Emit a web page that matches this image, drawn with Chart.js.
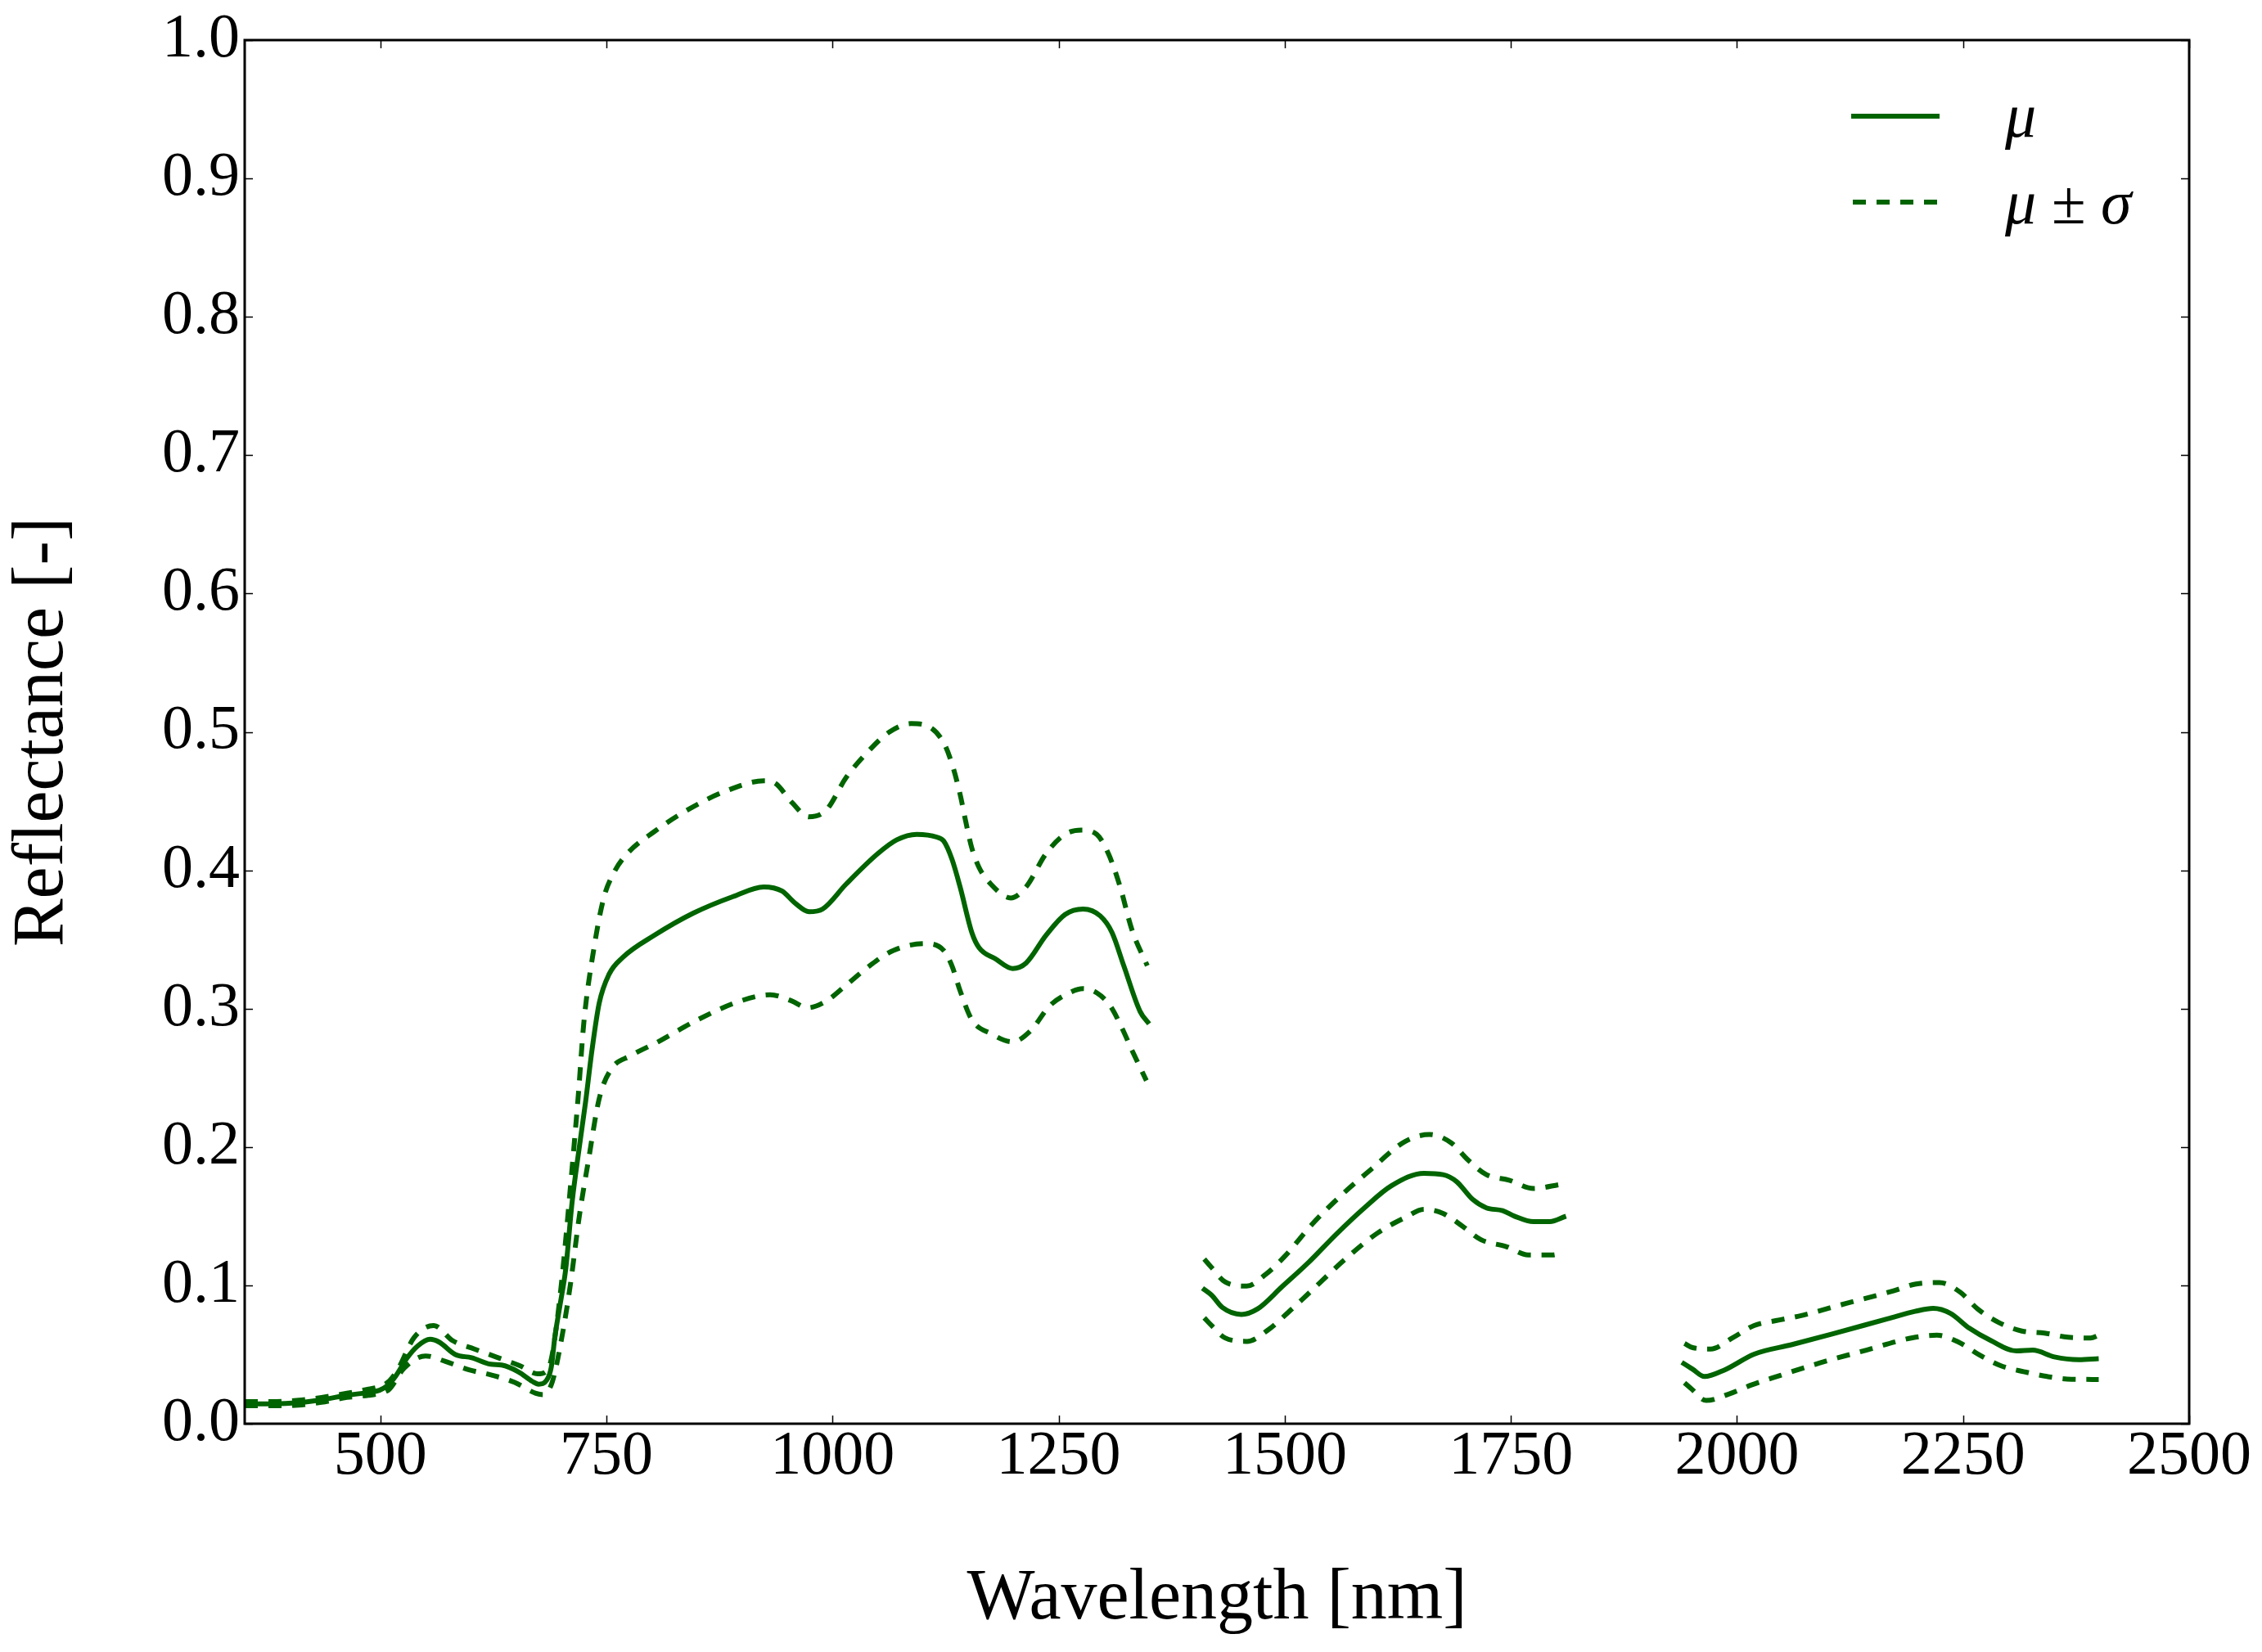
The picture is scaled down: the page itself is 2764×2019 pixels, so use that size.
<!DOCTYPE html>
<html>
<head>
<meta charset="utf-8">
<script src="https://cdn.jsdelivr.net/npm/chart.js@4.4.1/dist/chart.umd.min.js"></script>
<style>
  html, body { margin: 0; padding: 0; background: #fff; }
  canvas { display: block; }
</style>
</head>
<body>
<canvas id="spectrum" width="2764" height="2019"></canvas>
<script>
// tick labels
const wavelengthTicks = [500, 750, 1000, 1250, 1500, 1750, 2000, 2250, 2500];
const reflectanceTicks = [0, 0.1, 0.2, 0.3, 0.4, 0.5, 0.6, 0.7, 0.8, 0.9, 1.0];

// mean spectrum (null = water absorption gap)
const meanWavelength = [
  350, 380, 410, 435, 463, 487, 499, 508, 517, 529, 541, 555, 565, 583, 601, 622, 634, 653, 668, 675,
  684, 689, 693, 699, 705, 712, 720, 727, 734, 742, 753, 768, 803, 846, 890, 924, 944, 959, 974, 989,
  1015, 1050, 1071, 1093, 1115, 1123, 1132, 1141, 1154, 1162, 1180, 1199, 1214, 1236, 1257, 1277, 1296, 1309, 1322, 1340, 1350,
  1380,
  1409, 1419, 1431, 1452, 1470, 1497, 1527, 1557, 1588, 1618, 1654, 1675, 1690, 1708, 1723, 1741, 1754, 1775, 1793, 1811,
  1875,
  1939, 1951, 1964, 1986, 2019, 2061, 2106, 2167, 2197, 2217, 2236, 2257, 2281, 2309, 2327, 2351, 2378, 2400
];
const meanReflectance = [
  0.0144, 0.0144, 0.0152, 0.0173, 0.0205, 0.0227, 0.0242, 0.0276, 0.0345, 0.047, 0.056, 0.061, 0.059, 0.050, 0.0477, 0.043, 0.0424, 0.0374, 0.0306, 0.0286,
  0.0316, 0.041, 0.063, 0.087, 0.112, 0.160, 0.200, 0.233, 0.270, 0.304, 0.325, 0.337, 0.353, 0.369, 0.381, 0.388, 0.385, 0.376, 0.370, 0.372,
  0.390, 0.412, 0.422, 0.426, 0.424, 0.421, 0.408, 0.388, 0.355, 0.344, 0.336, 0.329, 0.333, 0.353, 0.368, 0.372, 0.367, 0.355, 0.331, 0.298, 0.289,
  null,
  0.098, 0.093, 0.084, 0.079, 0.083, 0.099, 0.117, 0.137, 0.156, 0.172, 0.181, 0.180, 0.175, 0.162, 0.156, 0.154, 0.150, 0.146, 0.146, 0.150,
  null,
  0.0444, 0.0394, 0.0341, 0.0388, 0.0503, 0.0572, 0.065, 0.0759, 0.0812, 0.0834, 0.0798, 0.069, 0.060, 0.0526, 0.0532, 0.0483, 0.0463, 0.047
];

// mean + sigma
const upperWavelength = [
  350, 380, 410, 435, 463, 487, 500, 510, 520, 537, 559, 580, 604, 629, 654, 674, 684, 690, 700, 710,
  719, 725, 736, 747, 758, 773, 803, 842, 881, 924, 937, 955, 974, 993, 1015, 1041, 1063, 1087, 1106, 1123,
  1132, 1141, 1147, 1154, 1162, 1175, 1197, 1214, 1236, 1257, 1275, 1292, 1305, 1318, 1331, 1348,
  1380,
  1411, 1419, 1434, 1458, 1479, 1500, 1530, 1564, 1594, 1633, 1660, 1684, 1702, 1723, 1748, 1775, 1805,
  1875,
  1942, 1951, 1971, 1995, 2019, 2043, 2070, 2121, 2173, 2198, 2224, 2247, 2266, 2290, 2315, 2340, 2366, 2391, 2400
];
const upperReflectance = [
  0.016, 0.016, 0.017, 0.019, 0.022, 0.025, 0.027, 0.031, 0.040, 0.062, 0.071, 0.060, 0.054, 0.048, 0.042, 0.036, 0.038, 0.050, 0.100, 0.170,
  0.2385, 0.290, 0.343, 0.380, 0.398, 0.412, 0.428, 0.4445, 0.457, 0.4646, 0.4627, 0.449, 0.4386, 0.4435, 0.467, 0.487, 0.500, 0.506, 0.504, 0.492,
  0.477, 0.455, 0.436, 0.416, 0.402, 0.390, 0.380, 0.388, 0.412, 0.426, 0.429, 0.426, 0.412, 0.388, 0.357, 0.331,
  null,
  0.119, 0.113, 0.1025, 0.0995, 0.108, 0.121, 0.144, 0.166, 0.183, 0.204, 0.209, 0.203, 0.191, 0.180, 0.176, 0.170, 0.173,
  null,
  0.058, 0.055, 0.054, 0.062, 0.071, 0.0745, 0.078, 0.087, 0.096, 0.101, 0.102, 0.095, 0.083, 0.073, 0.067, 0.0655, 0.0625, 0.062, 0.064
];

// mean - sigma
const lowerWavelength = [
  350, 380, 410, 435, 463, 487, 500, 510, 526, 550, 572, 598, 624, 648, 672, 680, 690, 700, 710, 720,
  730, 742, 755, 777, 807, 851, 898, 931, 955, 972, 993, 1015, 1041, 1067, 1102, 1123, 1132, 1141, 1154, 1175,
  1199, 1219, 1240, 1262, 1277, 1292, 1307, 1320, 1331, 1347,
  1380,
  1411, 1419, 1434, 1458, 1482, 1503, 1524, 1567, 1603, 1633, 1654, 1675, 1696, 1717, 1745, 1769, 1796, 1802,
  1875,
  1942, 1949, 1966, 1992, 2016, 2046, 2091, 2143, 2194, 2221, 2245, 2268, 2292, 2318, 2343, 2370, 2400
];
const lowerReflectance = [
  0.013, 0.013, 0.0135, 0.0155, 0.019, 0.0205, 0.022, 0.025, 0.040, 0.049, 0.045, 0.039, 0.035, 0.030, 0.022, 0.021, 0.030, 0.060, 0.100, 0.150,
  0.190, 0.235, 0.256, 0.266, 0.276, 0.292, 0.3055, 0.310, 0.3055, 0.3006, 0.3055, 0.317, 0.331, 0.342, 0.347, 0.342, 0.331, 0.313, 0.292, 0.282,
  0.276, 0.284, 0.302, 0.3115, 0.3144, 0.3115, 0.302, 0.286, 0.270, 0.248,
  null,
  0.0765, 0.071, 0.062, 0.0595, 0.068, 0.080, 0.0927, 0.119, 0.138, 0.149, 0.155, 0.152, 0.143, 0.133, 0.128, 0.122, 0.122, 0.1226,
  null,
  0.0296, 0.0256, 0.0168, 0.0217, 0.028, 0.0345, 0.0438, 0.0532, 0.0621, 0.064, 0.059, 0.0497, 0.0418, 0.0375, 0.0341, 0.0321, 0.032
];

const GREEN = '#006400';
const FONT = '"Liberation Serif", "Times New Roman", serif';

function toPoints(xs, ys) {
  return xs.map((x, i) => ({ x: x, y: ys[i] }));
}

// frame, inward ticks on all four sides, and the legend
const axesFrame = {
  id: 'axesFrame',
  afterDatasetsDraw(chart) {
    const ctx = chart.ctx;
    const area = chart.chartArea;
    const xs = chart.scales.x, ys = chart.scales.y;
    ctx.save();
    ctx.strokeStyle = '#000';
    ctx.lineWidth = 1.5;
    ctx.beginPath();
    wavelengthTicks.forEach(v => {
      const px = Math.round(xs.getPixelForValue(v)) + 0.5;
      ctx.moveTo(px, area.bottom); ctx.lineTo(px, area.bottom - 10);
      ctx.moveTo(px, area.top); ctx.lineTo(px, area.top + 10);
    });
    reflectanceTicks.forEach(v => {
      const py = Math.round(ys.getPixelForValue(v)) + 0.5;
      ctx.moveTo(area.left, py); ctx.lineTo(area.left + 10, py);
      ctx.moveTo(area.right, py); ctx.lineTo(area.right - 10, py);
    });
    ctx.stroke();
    ctx.lineWidth = 3;
    ctx.strokeRect(area.left, area.top, area.right - area.left, area.bottom - area.top);
    ctx.restore();
  },
  afterDraw(chart) {
    const ctx = chart.ctx;
    const area = chart.chartArea;
    const x0 = area.right - 413, x1 = area.right - 305;
    ctx.save();
    ctx.strokeStyle = GREEN;
    ctx.lineWidth = 6;
    ctx.lineCap = 'butt';
    ctx.beginPath();
    ctx.moveTo(x0, area.top + 93); ctx.lineTo(x1, area.top + 93);
    ctx.stroke();
    ctx.setLineDash([16, 13]);
    ctx.beginPath();
    ctx.moveTo(x0 + 2, area.top + 198); ctx.lineTo(x1, area.top + 198);
    ctx.stroke();
    ctx.setLineDash([]);

    const tx = area.right - 225;
    ctx.fillStyle = '#000';
    ctx.textBaseline = 'alphabetic';
    ctx.textAlign = 'left';
    ctx.font = 'italic 76px ' + FONT;
    ctx.fillText('\u03bc', tx, area.top + 118);
    ctx.fillText('\u03bc', tx, area.top + 224);
    ctx.font = '76px ' + FONT;
    ctx.fillText('\u00b1', tx + 57, area.top + 224);
    ctx.font = 'italic 76px ' + FONT;
    ctx.fillText('\u03c3', tx + 117, area.top + 224);
    ctx.restore();
  }
};

new Chart(document.getElementById('spectrum'), {
  type: 'line',
  data: {
    datasets: [
      {
        label: 'mu',
        data: toPoints(meanWavelength, meanReflectance),
        borderColor: GREEN,
        borderWidth: 6,
        pointRadius: 0,
        cubicInterpolationMode: 'monotone',
        spanGaps: false
      },
      {
        label: 'mu + sigma',
        data: toPoints(upperWavelength, upperReflectance),
        borderColor: GREEN,
        borderWidth: 6,
        borderDash: [16, 13],
        pointRadius: 0,
        cubicInterpolationMode: 'monotone',
        spanGaps: false
      },
      {
        label: 'mu - sigma',
        data: toPoints(lowerWavelength, lowerReflectance),
        borderColor: GREEN,
        borderWidth: 6,
        borderDash: [16, 13],
        pointRadius: 0,
        cubicInterpolationMode: 'monotone',
        spanGaps: false
      }
    ]
  },
  options: {
    responsive: false,
    animation: false,
    devicePixelRatio: 1,
    layout: { padding: { top: 49, right: 89, left: 0, bottom: 0 } },
    plugins: {
      legend: { display: false },
      tooltip: { enabled: false }
    },
    scales: {
      x: {
        type: 'linear',
        min: 350,
        max: 2500,
        afterBuildTicks: s => { s.ticks = wavelengthTicks.map(v => ({ value: v })); },
        afterFit: s => { s.height = 279; },
        grid: { display: false, drawTicks: false, tickLength: 0 },
        border: { display: false },
        ticks: {
          color: '#000',
          font: { family: FONT, size: 76, lineHeight: 1 },
          padding: 3,
          maxRotation: 0,
          autoSkip: false,
          callback: v => String(v)
        },
        title: {
          display: true,
          text: 'Wavelength [nm]',
          color: '#000',
          font: { family: FONT, size: 88 },
          padding: { top: 0, bottom: 11 }
        }
      },
      y: {
        type: 'linear',
        min: 0,
        max: 1,
        afterBuildTicks: s => { s.ticks = reflectanceTicks.map(v => ({ value: v })); },
        afterFit: s => { s.width = 299; },
        grid: { display: false, drawTicks: false, tickLength: 0 },
        border: { display: false },
        ticks: {
          color: '#000',
          font: { family: FONT, size: 76, lineHeight: 1 },
          padding: 6,
          callback: v => v.toFixed(1)
        },
        title: {
          display: true,
          text: 'Reflectance [-]',
          color: '#000',
          font: { family: FONT, size: 88 },
          padding: { top: 0, bottom: 0 }
        }
      }
    }
  },
  plugins: [axesFrame]
});
</script>
</body>
</html>
